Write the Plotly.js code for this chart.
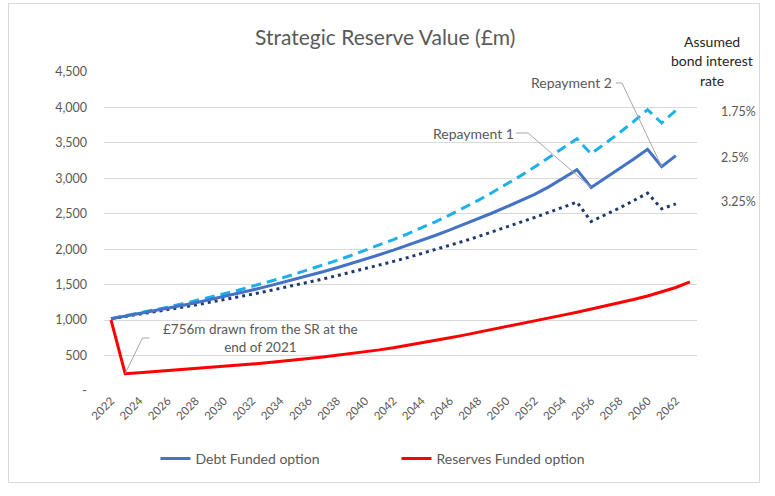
<!DOCTYPE html>
<html>
<head>
<meta charset="utf-8">
<script src="https://cdn.plot.ly/plotly-3.0.1.min.js"></script>
<style>
  html, body { margin: 0; padding: 0; background: #fff; }
  #wrap { position: relative; width: 775px; height: 496px; }
  #chart { position: absolute; left: 0; top: 0; width: 775px; height: 496px; }
  #frame { position: absolute; left: 8px; top: 3px; width: 750px; height: 478px; border: 1px solid #d9d9d9; pointer-events: none; }
</style>
</head>
<body>
<div id="wrap"><div id="chart"></div><div id="frame"></div></div>
<script>
// ---- data ----
const years = [2022,2023,2024,2025,2026,2027,2028,2029,2030,2031,2032,2033,2034,2035,2036,2037,2038,2039,2040,2041,2042,2043,2044,2045,2046,2047,2048,2049,2050,2051,2052,2053,2054,2055,2056,2057,2058,2059,2060,2061,2062,2063];

// Debt funded option, bond interest 2.5% (2022-2062)
const debt25 = [1020,1055,1090,1127,1165,1205,1246,1288,1332,1377,1424,1472,1522,1574,1627,1682,1739,1798,1859,1922,1987,2055,2125,2197,2272,2349,2429,2511,2596,2684,2775,2880,2995,3120,2870,3000,3135,3270,3410,3165,3320];

// Debt funded option, bond interest 1.75%
const debt175 = [1020,1058,1098,1139,1182,1227,1273,1321,1371,1422,1476,1531,1589,1649,1711,1775,1842,1912,1984,2058,2136,2216,2300,2390,2485,2585,2690,2800,2915,3035,3160,3290,3420,3558,3346,3490,3640,3800,3968,3780,3958];

// Debt funded option, bond interest 3.25%
const debt325 = [1020,1050,1081,1113,1146,1180,1215,1251,1288,1326,1365,1406,1447,1490,1534,1580,1627,1675,1724,1775,1828,1882,1938,1995,2054,2115,2178,2243,2310,2378,2448,2520,2592,2664,2391,2480,2580,2685,2791,2570,2640];

// Reserves funded option (2022-2063)
const reserves = [1000,245,258,272,288,304,318,333,348,363,380,397,414,435,457,480,503,527,555,580,610,643,678,713,750,788,827,866,905,945,986,1028,1070,1112,1155,1195,1240,1290,1340,1395,1460,1540];

const yTickVals = [0,500,1000,1500,2000,2500,3000,3500,4000,4500];
const yTickText = ['-','500','1,000','1,500','2,000','2,500','3,000','3,500','4,000','4,500'];
const xTickVals = [2022,2024,2026,2028,2030,2032,2034,2036,2038,2040,2042,2044,2046,2048,2050,2052,2054,2056,2058,2060,2062];

const rateLabels = ['1.75%','2.5%','3.25%'];

// ---- layout helpers (pixel -> paper) ----
const L = 103.5, R = 697, T = 72, B = 391;
const px = v => (v - L) / (R - L);
const py = v => (B - v) / (B - T);

const debtYears = years.slice(0, debt25.length);
const idx = y => years.indexOf(y);

const FONT = 'Lato, "Open Sans", sans-serif';
const GREY = '#595959';

const traces = [
  { x: debtYears, y: debt175, mode: 'lines', name: '1.75%', showlegend: false,
    line: { color: '#1CB0EC', width: 3, dash: '10px,6px' }, hoverinfo: 'skip' },
  { x: debtYears, y: debt325, mode: 'lines', name: '3.25%', showlegend: false,
    line: { color: '#1F3A6E', width: 3, dash: '3px,4px' }, hoverinfo: 'skip' },
  { x: debtYears, y: debt25, mode: 'lines', name: 'Debt Funded option',
    line: { color: '#4472C4', width: 3 } },
  { x: years, y: reserves, mode: 'lines', name: 'Reserves Funded option',
    line: { color: '#FF0000', width: 3 } }
];

const txt = (text, xp, yp, opts) => Object.assign({
  text: text, xref: 'paper', yref: 'paper', x: px(xp), y: py(yp),
  xanchor: 'center', yanchor: 'middle',
  showarrow: false, font: { family: FONT, size: 14, color: GREY }
}, opts || {});

const DARK = { family: FONT, size: 14, color: '#262626' };
const RATE = { family: FONT, size: 12.5, color: GREY };

const annotations = [
  txt('Assumed', 712, 41, { font: DARK }),
  txt('bond interest', 712, 60, { font: DARK }),
  txt('rate', 712, 80, { font: DARK }),
  txt(rateLabels[0], 719, 111, { xanchor: 'left', font: RATE }),
  txt(rateLabels[1], 719, 157, { xanchor: 'left', font: RATE }),
  txt(rateLabels[2], 719, 201, { xanchor: 'left', font: RATE }),
  txt('Repayment 1', 473, 133),
  txt('Repayment 2', 571, 82),
  txt('£756m drawn from the SR at the<br>end of 2021', 260, 338, { font: { family: FONT, size: 13.5, color: GREY } })
];

// leader lines: start next to the label (pixel -> data), end on the data point
const xData = p => 2022 + (p - 110.6) / ((690 - 110.6) / 41);
const yData = p => (B - p) * (4500 / (B - T));
const leader = (pts) => ({
  type: 'path', xref: 'x', yref: 'y',
  path: 'M ' + pts.map(q => q[0] + ',' + q[1]).join(' L '),
  line: { color: '#a6a6a6', width: 1 }
});

const shapes = [
  leader([[xData(516), yData(133)], [xData(528), yData(133)], [2056, debt25[idx(2056)]]]),
  leader([[xData(616), yData(83)], [xData(622), yData(83)], [2061, debt25[idx(2061)]]]),
  leader([[xData(149), yData(338)], [xData(142), yData(338)], [2023, reserves[idx(2023)]]])
];

const layout = {
  width: 775, height: 496,
  margin: { l: L, r: 775 - R, t: T, b: 496 - B, pad: 0 },
  paper_bgcolor: '#ffffff', plot_bgcolor: '#ffffff',
  font: { family: FONT, size: 12, color: GREY },
  title: { text: 'Strategic Reserve Value (£m)', x: 0.497, xanchor: 'center', y: 0.925, yanchor: 'middle',
           font: { family: FONT, size: 21, color: GREY } },
  xaxis: {
    range: [2021.5, 2063.5], tickvals: xTickVals, ticktext: xTickVals.map(String),
    tickangle: -45, showgrid: false, zeroline: false, showline: false, ticks: '',
    tickfont: { family: FONT, size: 11.5, color: GREY }, fixedrange: true
  },
  yaxis: {
    range: [0, 4500], tickvals: yTickVals, ticktext: yTickText,
    showgrid: true, gridcolor: '#d9d9d9', gridwidth: 1, zeroline: false, showline: false,
    ticks: '', ticklabelstandoff: 16,
    tickfont: { family: FONT, size: 12.5, color: GREY }, fixedrange: true
  },
  legend: {
    orientation: 'h', x: px(155), xanchor: 'left', y: py(459), yanchor: 'middle',
    entrywidth: 196, entrywidthmode: 'pixels',
    font: { family: FONT, size: 14, color: GREY }, bgcolor: 'rgba(0,0,0,0)'
  },
  annotations: annotations,
  shapes: shapes,
  showlegend: true
};

Plotly.newPlot('chart', traces, layout, { displayModeBar: false, staticPlot: true });
</script>
</body>
</html>
